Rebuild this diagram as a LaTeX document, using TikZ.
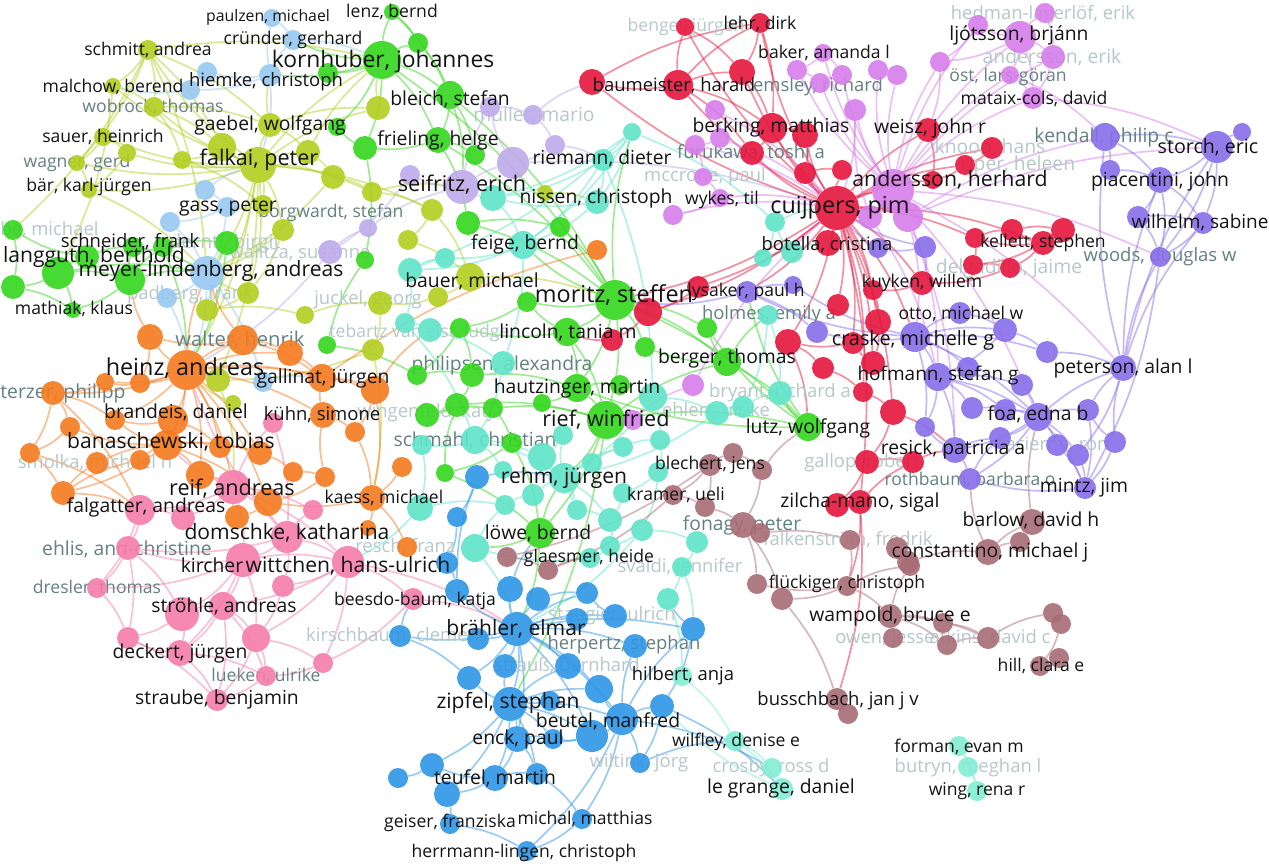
\documentclass[tikz,border=0pt]{standalone}
\usepackage{fontspec}
\setmainfont{Open Sans}
\usetikzlibrary{backgrounds}
\definecolor{cYg}{RGB}{178,206,30}
\definecolor{cGr}{RGB}{52,214,28}
\definecolor{cLb}{RGB}{150,200,240}
\definecolor{cLv}{RGB}{190,170,235}
\definecolor{cCy}{RGB}{95,228,200}
\definecolor{cOr}{RGB}{245,122,30}
\definecolor{cPk}{RGB}{245,125,170}
\definecolor{cBl}{RGB}{45,150,230}
\definecolor{cRd}{RGB}{230,22,62}
\definecolor{cMg}{RGB}{215,125,235}
\definecolor{cPu}{RGB}{135,110,235}
\definecolor{cBr}{RGB}{168,108,118}
\definecolor{cMt}{RGB}{130,238,212}
\definecolor{ink}{RGB}{20,20,20}
\definecolor{fadeA}{RGB}{100,128,128}
\definecolor{fadeB}{RGB}{182,200,200}
\begin{document}
\begin{tikzpicture}[x=0.2mm, y=-0.2mm, line cap=round,
  dot/.style={circle, inner sep=0pt, draw=none, fill opacity=0.9},
  lab/.style={inner sep=0pt, text=ink},
  labA/.style={inner sep=0pt, text=fadeA},
  labB/.style={inner sep=0pt, text=fadeB},
  link/.style={line width=0.34mm, draw opacity=0.48},
  eY/.style={link, draw=cYg}, eG/.style={link, draw=cGr}, eLb/.style={link, draw=cLb},
  eV/.style={link, draw=cLv}, eC/.style={link, draw=cCy}, eO/.style={link, draw=cOr},
  eP/.style={link, draw=cPk}, eU/.style={link, draw=cBl}, eR/.style={link, draw=cRd},
  eM/.style={link, draw=cMg}, eQ/.style={link, draw=cPu}, eW/.style={link, draw=cBr},
  eT/.style={link, draw=cMt}]
\useasboundingbox (0,0) rectangle (1269,866);

\foreach \n/\x/\y/\r in {schmitt/148/50/10, malchow/113/86/8, wobrock/154/107/10, gaebel/270/125/12, falkai/258/165/18, sauer/103/137/9, wagner/77/163/8, baer/89/190/8, y1/222/147/14, y2/308/152/12, y3/127/153/9, y4/182/160/9, y5/263/205/10, y6/283/230/11, y7/378/108/12, y8/333/177/12, y9/372/192/10, y10/432/210/11, y11/408/240/10, y12/248/293/11, y13/207/310/11, y14/305/315/9, y15/218/380/12, y16/233/403/8, y17/373/350/11, y18/380/303/12, y19/438/297/10, bauer/470/277/14, y20/545/193/8}
  \node[dot, fill=cYg, minimum size=0.4mm*\r] (\n) at (\x,\y) {};
\foreach \n/\x/\y/\r in {lenz/392/12/8, kornhuber/382/60/19, g1/418/43/10, g2/328/73/10, bleich/450/95/14, g3/337/127/9, frieling/438/140/13, g4/365/148/12, g5/475/155/10, g6/468/223/12, g7/560/227/10, g8/365/260/9, g9/13/230/10, g10/58/273/16, g11/87/257/12, g12/130/280/15, g13/13/287/12, schneider/133/247/10, g14/163/247/10, derntl/227/243/12, mathiak/73/310/8, g15/327/345/9, g16/460/328/10, g17/417/375/10, g18/472/375/12, g19/457/405/12, g20/427/415/12, g21/493/408/10, g22/512/443/10, g23/445/473/9, g24/527/302/10, lincoln/567/332/14, moritz/615/300/20, g26/645/347/10, g27/707/328/10, hautzinger/577/388/14, g28/620/385/10, g29/542/403/9, rief/606/420/19, berger/727/362/14, lutz/808/427/14, loewe/540/533/15}
  \node[dot, fill=cGr, minimum size=0.4mm*\r] (\n) at (\x,\y) {};
\foreach \n/\x/\y/\r in {paulzen/272/18/9, cruender/293/40/10, hiemke/270/75/11, b1/207/72/10, b2/190/90/10, b3/205/190/10, gass/227/207/10, b4/170/222/10, meyer/207/273/17, b5/167/298/10, b6/263/382/10}
  \node[dot, fill=cLb, minimum size=0.4mm*\r] (\n) at (\x,\y) {};
\foreach \n/\x/\y/\r in {seifritz/462/187/17, v1/513/163/16, v2/410/175/10, v3/490/107/10, v4/533/115/10, v5/555/145/10, v6/330/252/12, v7/368/228/9}
  \node[dot, fill=cLv, minimum size=0.4mm*\r] (\n) at (\x,\y) {};
\foreach \n/\x/\y/\r in {c1/632/132/9, riemann/603/160/11, c2/493/198/13, nissen/597/202/12, feige/523/245/14, c3/410/270/12, c4/445/258/10, c5/405/323/10, c6/430/330/12, c7/503/363/12, schmahl/475/440/14, c8/422/445/10, c9/563/435/10, c10/542/457/14, c11/592/463/10, c12/623/447/10, c13/503/470/9, c14/505/505/10, c15/533/495/11, rehm/564/478/15, c16/577/510/10, c17/610/520/12, c18/420/508/13, c19/475/548/14, c20/610/546/10, c21/660/440/10, c22/658/472/10, c23/717/413/12, c24/743/407/11, c25/780/393/12, c26/653/397/14, c27/642/530/11, c28/697/542/11, c29/682/567/10, c30/623/493/10, c31/775/222/10, c32/763/258/9, c33/792/252/11, holmes/768/315/10, c34/668/599/11, glaesmer/590/558/10}
  \node[dot, fill=cCy, minimum size=0.4mm*\r] (\n) at (\x,\y) {};
\foreach \n/\x/\y/\r in {heinz/187/370/20, walter/243/340/15, o1/150/337/13, o2/290/353/13, o3/140/383/10, o4/105/382/9, terzer/53/393/12, o5/115/420/10, o6/70/427/10, brandeis/173/420/15, o7/30/453/10, o8/97/463/11, o9/140/460/10, o10/220/447/11, o11/260/453/12, banasch/167/445/15, o12/200/475/14, o13/63/493/12, o14/268/502/14, o15/237/517/12, o16/293/472/10, o17/325/477/10, gallinat/322/378/14, o18/375/390/14, o19/355/432/10, o20/402/467/10, kaess/372/498/13, o22/368/528/8, o23/407/547/10, kuehn/323/415/13, o24/597/250/10}
  \node[dot, fill=cOr, minimum size=0.4mm*\r] (\n) at (\x,\y) {};
\foreach \n/\x/\y/\r in {reif/233/487/17, falg/140/510/15, domschke/287/537/16, ehlis/128/548/12, kircher/243/560/17, wittchen/348/562/16, p1/183/518/12, p2/313/510/10, p3/273/423/10, dresler/97/588/10, p4/182/614/17, stroehle/223/606/14, p5/128/638/11, deckert/180/653/13, p6/256/638/14, lueken/266/676/10, straube/217/700/11, p7/323/663/10, p8/283/586/11, beesdo/413/599/11}
  \node[dot, fill=cPk, minimum size=0.4mm*\r] (\n) at (\x,\y) {};
\foreach \n/\x/\y/\r in {braehler/517/629/17, zipfel/510/704/17, beutel/622/719/16, u1/592/736/16, enck/517/739/13, u2/553/739/10, u3/469/678/12, u4/478/639/11, u5/400/636/11, u6/457/591/12, u7/510/589/13, u8/538/599/12, u9/587/593/11, u10/577/619/11, u11/615/616/12, u12/568/666/13, u13/505/666/12, u14/599/689/14, u15/635/646/12, u16/550/701/10, u17/432/765/12, u18/398/778/10, u19/447/794/13, teufel/495/778/13, u20/537/774/11, u21/477/477/12, u22/457/517/10, u23/447/563/11, u24/693/629/12, u26/662/706/12, wiltink/640/763/10, geiser/450/824/10, michal/582/819/10, herrmann/527/851/10}
  \node[dot, fill=cBl, minimum size=0.4mm*\r] (\n) at (\x,\y) {};
\foreach \n/\x/\y/\r in {cuijpers/837/208/22, baumeister/678/85/15, r1/592/82/13, bengel/685/27/9, lehr/760/23/10, r2/742/72/13, berking/772/128/15, r3/805/135/13, furukawa/752/153/12, r4/805/173/11, r5/842/170/10, botella/828/243/13, weisz/928/130/12, r6/992/148/11, r7/965/165/10, r8/933/180/9, kellett/1043/243/12, r9/975/238/10, r10/1012/230/11, r11/1063/230/12, r12/973/265/10, r13/1010/268/10, kuyken/922/283/12, r14/873/290/10, r15/838/305/11, r16/878/322/13, r17/788/342/13, r18/823/368/11, r19/873/363/12, r20/853/343/11, r21/863/392/10, r22/893/412/13, r23/867/462/12, r24/913/462/11, r25/837/505/12, zilcha/860/502/12, r26/648/312/14, r27/698/287/11, r28/612/340/11}
  \node[dot, fill=cRd, minimum size=0.4mm*\r] (\n) at (\x,\y) {};
\foreach \n/\x/\y/\r in {andersson/893/190/21, m1/908/217/15, m2/870/217/12, baker/823/53/9, emsley/820/83/10, m3/797/70/10, m4/842/75/10, m5/878/70/10, m6/897/75/10, m7/855/110/11, m8/715/110/10, m9/720/138/10, m10/695/145/10, mccrone/703/177/9, wykes/720/198/9, m11/673/215/10, m12/940/62/10, ljotsson/1020/37/16, m13/978/25/10, m14/1045/13/10, anderik/1053/57/12, oest/1010/75/9, mataix/1033/98/11, m15/633/420/10, m16/693/385/11}
  \node[dot, fill=cMg, minimum size=0.4mm*\r] (\n) at (\x,\y) {};
\foreach \n/\x/\y/\r in {lysaker/747/292/11, q1/817/332/11, q2/793/285/9, craske/915/337/15, otto/960/313/11, q3/1005/330/12, q4/1047/352/11, hofmann/938/377/14, q5/968/368/11, q6/1022/385/11, q7/972/408/11, q8/1005/410/11, foa/1038/417/14, q9/1088/410/11, q10/1000/438/11, resick/955/450/13, q11/1057/445/11, q12/1078/455/11, q13/1115/442/11, mintz/1085/488/11, rothbaum/970/479/11, peterson/1123/368/13, q14/925/427/10, kendall/1105/137/14, q15/1110/170/10, storch/1217/147/16, q16/1242/132/9, piacentini/1160/180/13, q17/1138/217/11, wilhelm/1203/223/11, woods/1160/257/10, q18/925/247/11, q19/878/248/10}
  \node[dot, fill=cPu, minimum size=0.4mm*\r] (\n) at (\x,\y) {};
\foreach \n/\x/\y/\r in {blechert/710/465/11, w1/733/453/10, w2/762/470/10, kramer/673/495/10, w3/705/507/10, fonagy/743/525/13, w4/760/533/10, falken/850/540/10, w5/507/557/10, w6/548/570/10, flueck/847/586/10, w7/757/584/10, w8/782/599/11, wampold/890/616/12, w9/943/623/10, w10/947/645/10, w11/988/638/11, w12/1053/613/10, w13/1061/624/10, hill/1040/666/10, w14/1059/658/10, w15/910/566/10, w16/893/638/10, busch/837/699/11, w17/848/714/10, constantino/988/552/13, w18/1020/542/10, barlow/1032/522/13, w19/897/548/11, w20/908/562/11}
  \node[dot, fill=cBr, minimum size=0.4mm*\r] (\n) at (\x,\y) {};
\foreach \n/\x/\y/\r in {hilbert/682/676/10, wilfley/735/741/10, crosby/772/768/10, legrange/782/789/11, forman/959/746/10, butryn/968/767/10, wing/977/791/10}
  \node[dot, fill=cMt, minimum size=0.4mm*\r] (\n) at (\x,\y) {};

\begin{scope}[on background layer]
\fill[white] (0,0) rectangle (1269,866);
\foreach \a/\b in {falkai/schmitt, falkai/malchow, falkai/wobrock, falkai/gaebel, falkai/sauer, falkai/wagner, falkai/baer, falkai/y1, falkai/y2, falkai/y3, falkai/y4, falkai/y5, falkai/y6, falkai/y8, falkai/y9, falkai/y12, falkai/y13, falkai/meyer, falkai/heinz, falkai/kornhuber, falkai/y7, falkai/y10, falkai/y15, schmitt/malchow, schmitt/wobrock, schmitt/gaebel, schmitt/y1, schmitt/kornhuber, schmitt/meyer, schmitt/g9, schmitt/wagner, malchow/wobrock, malchow/g10, wobrock/gaebel, wobrock/y1, wobrock/y4, sauer/wagner, sauer/y3, wagner/baer, y3/baer, gaebel/y2, gaebel/y7, y2/y8, y8/y9, y9/y10, y10/y11, y11/bauer, y7/kornhuber, y12/y13, y13/y14, y14/y18, y18/y17, y17/y15, y15/heinz, y16/heinz, bauer/y19, y19/y18, y8/meyer, y6/meyer, y5/gass, gaebel/hiemke, y1/y4, y4/y5, y12/meyer, y6/y12, bauer/moritz, y20/nissen, y9/seifritz, y2/kornhuber, y10/bauer, y17/kaess, y15/reif, baer/meyer}
  \draw[eY] (\a) to[bend left=10] (\b);
\foreach \a/\b in {kornhuber/lenz, kornhuber/g1, kornhuber/g2, kornhuber/bleich, kornhuber/g3, kornhuber/frieling, kornhuber/g4, kornhuber/hiemke, kornhuber/cruender, lenz/g1, lenz/bleich, g1/bleich, bleich/frieling, bleich/g5, bleich/seifritz, frieling/g5, frieling/g4, frieling/g6, g4/g3, g4/g8, g6/moritz, g6/g7, g7/moritz, frieling/moritz, kornhuber/moritz, bleich/moritz, moritz/lincoln, moritz/berger, moritz/lutz, moritz/rief, moritz/hautzinger, moritz/g24, moritz/g26, moritz/g27, moritz/feige, moritz/c1, lincoln/hautzinger, lincoln/rief, lincoln/g16, lincoln/g24, hautzinger/rief, hautzinger/g28, hautzinger/g29, rief/lutz, rief/berger, rief/loewe, rief/rehm, berger/lutz, berger/g27, berger/g26, lutz/g27, lutz/hautzinger, lutz/c25, g16/g17, g17/g18, g18/g19, g19/g20, g20/g21, g21/g22, g22/g23, g23/g19, g15/g17, g15/g8, g16/g18, g18/hautzinger, g19/rief, g21/rief, g22/loewe, g23/loewe, loewe/rehm, loewe/c19, g10/g11, g10/g12, g10/g13, g11/g9, g11/schneider, g12/schneider, g12/g14, g14/derntl, derntl/meyer, g9/g13, g10/mathiak, g12/mathiak, g13/mathiak, schneider/meyer, g10/meyer, g12/meyer, derntl/heinz, g14/heinz, g24/g16, lutz/lysaker, berger/holmes, moritz/r26, loewe/braehler, rief/zipfel}
  \draw[eG] (\a) to[bend left=10] (\b);
\foreach \a/\b in {hiemke/paulzen, hiemke/cruender, hiemke/b1, hiemke/b2, b1/b2, paulzen/cruender, cruender/kornhuber, hiemke/falkai, b3/gass, gass/b4, b4/meyer, gass/meyer, meyer/b5, meyer/b6, meyer/heinz, b5/heinz, b6/gallinat, meyer/y13, b3/falkai, b2/malchow}
  \draw[eLb] (\a) to[bend left=10] (\b);
\foreach \a/\b in {seifritz/v1, seifritz/v2, seifritz/v3, v3/v4, v4/v5, v5/v1, v1/v3, v2/v6, v6/v7, v7/seifritz, v1/cuijpers, v4/r1, v6/heinz, v5/riemann}
  \draw[eV] (\a) to[bend left=10] (\b);
\foreach \a/\b in {c1/riemann, c1/nissen, c1/c2, c1/feige, c1/c3, riemann/nissen, riemann/feige, riemann/c2, nissen/feige, nissen/c2, c2/feige, c2/seifritz, feige/c4, feige/c3, c3/c4, c3/c5, c5/c6, c6/c7, c7/schmahl, schmahl/c8, schmahl/c10, schmahl/rehm, schmahl/c13, c8/c18, c18/c14, c14/c15, c15/rehm, rehm/c9, rehm/c10, rehm/c11, rehm/c12, rehm/c16, rehm/c17, c9/c10, c11/c12, c12/c21, c21/c22, c22/c30, c30/c17, c17/c20, c20/glaesmer, glaesmer/c19, c19/c14, c19/braehler, c27/c28, c28/c29, c29/c34, c34/hilbert, c26/c23, c23/c24, c24/c25, c26/c21, c31/c32, c32/c33, c33/c31, c31/cuijpers, c33/botella, holmes/c25, holmes/c24, c10/c16, c16/c17, c27/c20, c22/c27, feige/c7, c1/c31, riemann/c26, c26/rehm, c23/rehm, c27/braehler, c29/u24, c5/schmahl, c18/wittchen}
  \draw[eC] (\a) to[bend left=10] (\b);
\foreach \a/\b in {heinz/walter, heinz/o1, heinz/o2, heinz/o3, heinz/o4, heinz/terzer, heinz/o5, heinz/brandeis, heinz/banasch, heinz/o10, heinz/o11, heinz/o12, heinz/gallinat, heinz/kuehn, heinz/o18, heinz/o14, heinz/reif, walter/o2, walter/gallinat, walter/o1, o1/o3, o3/o4, o4/terzer, terzer/o6, terzer/o5, terzer/o7, o6/o7, o7/o13, o13/o8, o8/banasch, o9/banasch, banasch/brandeis, banasch/o10, banasch/o12, banasch/o13, banasch/o5, banasch/o6, banasch/o11, banasch/o14, brandeis/o10, brandeis/o5, o10/o11, o11/o16, o16/o17, o17/kuehn, kuehn/gallinat, gallinat/o18, o18/o19, o19/kaess, o20/kaess, kaess/o22, kaess/o23, kaess/o14, o14/o15, o15/reif, o12/reif, o13/falg, o13/o9, gallinat/o24, o2/gallinat, o17/o14, kuehn/o19, o18/kaess, terzer/falg, o7/falg, heinz/meyer, walter/meyer, o1/g12, o18/c6}
  \draw[eO] (\a) to[bend left=10] (\b);
\foreach \a/\b in {reif/falg, reif/domschke, reif/kircher, reif/p1, reif/p2, reif/wittchen, reif/p3, domschke/kircher, domschke/wittchen, domschke/p2, domschke/ehlis, domschke/p8, kircher/wittchen, kircher/ehlis, kircher/stroehle, kircher/p4, kircher/deckert, kircher/p6, kircher/dresler, wittchen/stroehle, wittchen/p6, wittchen/beesdo, wittchen/p7, wittchen/p8, falg/ehlis, falg/p1, ehlis/dresler, ehlis/p4, ehlis/p5, p4/stroehle, p4/deckert, p4/p5, stroehle/deckert, stroehle/p6, stroehle/lueken, stroehle/straube, deckert/straube, deckert/p5, deckert/lueken, p6/lueken, p6/straube, p6/p7, lueken/straube, p7/lueken, p8/p6, beesdo/p7, beesdo/braehler, dresler/p5, p5/straube, falg/dresler, p3/domschke, wittchen/braehler, domschke/heinz, reif/banasch}
  \draw[eP] (\a) to[bend left=10] (\b);
\foreach \a/\b in {braehler/zipfel, braehler/beutel, braehler/u1, braehler/enck, braehler/u3, braehler/u4, braehler/u5, braehler/u6, braehler/u7, braehler/u8, braehler/u9, braehler/u10, braehler/u11, braehler/u12, braehler/u13, braehler/u14, braehler/u15, braehler/u24, zipfel/beutel, zipfel/u1, zipfel/enck, zipfel/u2, zipfel/u3, zipfel/u12, zipfel/u13, zipfel/u14, zipfel/u16, zipfel/teufel, zipfel/u20, zipfel/u17, zipfel/u19, beutel/u1, beutel/u14, beutel/u15, beutel/u24, beutel/u26, beutel/wiltink, beutel/michal, beutel/herrmann, u1/enck, u1/u2, enck/u2, enck/teufel, enck/u20, teufel/u19, teufel/u17, teufel/u20, u17/u18, u17/u19, u19/geiser, geiser/herrmann, michal/herrmann, u20/michal, u5/u3, u6/u21, u21/u22, u22/u23, u23/u6, u24/u26, u26/wiltink, u24/c34, wiltink/wilfley, beutel/crosby, u26/legrange, u21/rehm, u7/loewe, u5/beesdo, u11/u9, u8/u9}
  \draw[eU] (\a) to[bend left=10] (\b);
\foreach \a/\b in {cuijpers/baumeister, cuijpers/r1, cuijpers/lehr, cuijpers/bengel, cuijpers/r2, cuijpers/berking, cuijpers/r3, cuijpers/furukawa, cuijpers/r4, cuijpers/r5, cuijpers/botella, cuijpers/weisz, cuijpers/r6, cuijpers/r7, cuijpers/r8, cuijpers/kuyken, cuijpers/r14, cuijpers/r15, cuijpers/r16, cuijpers/r17, cuijpers/r19, cuijpers/r20, cuijpers/r22, cuijpers/r26, cuijpers/r27, cuijpers/andersson, cuijpers/m1, cuijpers/m2, cuijpers/r9, cuijpers/kellett, cuijpers/moritz, cuijpers/zilcha, cuijpers/r21, baumeister/r1, baumeister/bengel, baumeister/lehr, baumeister/r2, baumeister/berking, baumeister/furukawa, bengel/r2, lehr/r2, lehr/berking, r2/berking, berking/r3, berking/furukawa, r3/r4, r4/r5, weisz/r8, r6/r7, r7/r8, kellett/r9, kellett/r10, kellett/r11, kellett/r12, kellett/r13, r9/r10, r10/r11, r12/r13, r9/r12, r13/kuyken, kuyken/r14, r14/r16, r16/r19, r19/r20, r20/r17, r17/r18, r18/r21, r21/r22, r22/r23, r23/r24, r23/r25, r25/zilcha, zilcha/r24, r26/moritz, r26/r28, r27/r26, r22/resick, r24/resick, zilcha/busch, zilcha/flueck, r1/lehr, cuijpers/lysaker, cuijpers/craske, r17/lutz, r28/lincoln}
  \draw[eR] (\a) to[bend left=10] (\b);
\foreach \a/\b in {andersson/m1, andersson/m2, andersson/ljotsson, andersson/anderik, andersson/oest, andersson/mataix, andersson/m12, andersson/m13, andersson/baker, andersson/emsley, andersson/m4, andersson/m5, andersson/m6, andersson/m7, andersson/m3, m1/craske, m1/hofmann, m1/kendall, andersson/foa, m2/m7, ljotsson/m13, ljotsson/m14, ljotsson/anderik, ljotsson/oest, ljotsson/mataix, ljotsson/m12, m13/m12, m14/anderik, oest/mataix, anderik/mataix, baker/m3, baker/m4, emsley/m4, m3/emsley, m5/m6, m8/m9, m9/m10, m10/mccrone, mccrone/wykes, wykes/m11, m8/cuijpers, m9/cuijpers, m10/cuijpers, wykes/cuijpers, m11/cuijpers, m15/rief, m15/m16, m16/cuijpers, m12/weisz, andersson/peterson, m1/storch, andersson/woods, mataix/storch, oest/kendall, m1/resick, m2/hofmann, m7/cuijpers}
  \draw[eM] (\a) to[bend left=10] (\b);
\foreach \a/\b in {craske/otto, craske/hofmann, craske/q1, craske/q3, craske/q4, craske/q5, craske/q14, craske/lysaker, craske/q2, craske/foa, hofmann/q5, hofmann/q6, hofmann/q7, hofmann/q8, hofmann/foa, hofmann/resick, hofmann/q14, otto/q3, q3/q4, q4/peterson, q3/hofmann, q6/foa, q7/foa, q8/foa, foa/q9, foa/q10, foa/q11, foa/q12, foa/resick, foa/rothbaum, foa/peterson, foa/mintz, q9/peterson, q9/mintz, q11/mintz, q12/mintz, q13/peterson, q13/mintz, q13/q9, resick/rothbaum, resick/q10, resick/q14, rothbaum/q10, peterson/q12, peterson/storch, peterson/piacentini, peterson/wilhelm, peterson/woods, peterson/kendall, kendall/q15, kendall/storch, kendall/piacentini, q15/piacentini, storch/q16, storch/piacentini, storch/wilhelm, storch/woods, piacentini/q17, piacentini/wilhelm, piacentini/woods, q17/wilhelm, q17/woods, wilhelm/woods, woods/mintz, q18/q19, q18/cuijpers, q19/cuijpers, lysaker/q2, lysaker/q1, mintz/rothbaum, q18/kuyken, lysaker/moritz}
  \draw[eQ] (\a) to[bend left=10] (\b);
\foreach \a/\b in {blechert/w1, blechert/kramer, blechert/w3, w1/w2, w2/fonagy, kramer/w3, w3/fonagy, fonagy/w4, fonagy/w7, fonagy/w8, w4/falken, falken/flueck, flueck/w7, flueck/w8, flueck/wampold, flueck/w15, w8/busch, wampold/w9, wampold/w10, wampold/w11, wampold/w16, wampold/w15, w9/w11, w10/w11, w11/w12, w12/w13, w13/hill, hill/w14, w15/w19, w19/w20, w20/constantino, constantino/w18, w18/barlow, constantino/barlow, busch/w17, w5/w6, w6/glaesmer, blechert/w5, kramer/w6, barlow/foa, constantino/rothbaum, w2/lutz}
  \draw[eW] (\a) to[bend left=10] (\b);
\foreach \a/\b in {wilfley/crosby, crosby/legrange, wilfley/legrange, forman/butryn, butryn/wing, forman/wing, hilbert/wilfley, legrange/u26}
  \draw[eT] (\a) to[bend left=10] (\b);

\foreach \x/\y/\s/\t [count=\i] in {153/107/10/{wobrock, thomas}, 77/163/10/{wagner, gerd}, 331/213/10/{borgwardt, stefan}, 240/340/11.5/{walter, henrik}, 127/549/11/{ehlis, ann-christine}, 97/588/10/{dresler, thomas}, 266/676/10/{lueken, ulrike}, 502/365/11/{philipsen, alexandra}, 475/440/11/{schmahl, christian}, 769/315/10.5/{holmes, emily a}, 742/525/11/{fonagy, peter}, 624/645/10.5/{herpertz, stephan}, 1104/137/11/{kendall, philip c}, 1160/257/10.5/{woods, douglas w}, 1008/77/10/{öst, lars-göran}, 970/480/10/{rothbaum, barbara o}, 818/87/10.5/{emsley, richard}, 751/153/10.5/{furukawa, toshi a}}
  \node[labA] (lm\i) at (\x,\y) {\fontsize{\s}{\s}\selectfont\t};
\node[labA, anchor=west] (lmt) at (0,393) {\fontsize{11}{11}\selectfont terzer, philipp};
\foreach \x/\y/\s/\t [count=\i] in {534/115/11/{müller, mario}, 686/27/10/{bengel, jürgen}, 1043/15/10.5/{hedman-lagerlöf, erik}, 1052/57/11/{andersson, erik}, 990/148/11/{knoop, hans}, 1018/165/11/{riper, heleen}, 1009/268/11/{delgadillo, jaime}, 705/177/10.5/{mccrone, paul}, 225/243/11/{derntl, birgit}, 300/253/10.5/{walitza, susanne}, 190/295/10.5/{padberg, frank}, 368/300/10.5/{juckel, georg}, 423/333/10/{tebartz van elst, ludger}, 430/413/10.5/{wingenfeld, katja}, 95/463/10.5/{smolka, michael n}, 405/547/10.5/{resch, franz}, 397/636/10.5/{kirschbaum, clemens}, 567/666/10.5/{strauß, bernhard}, 612/616/10.5/{stangier, ulrich}, 680/568/10.5/{svaldi, jennifer}, 639/763/10.5/{wiltink, jörg}, 771/768/10.5/{crosby, ross d}, 968/768/10.5/{butryn, meghan l}, 885/639/10.5/{owen, jesse}, 990/638/10.5/{atkins, david c}, 848/540/10.5/{falkenström, fredrik}, 862/463/10.5/{gallop, robert}, 780/393/10.5/{bryant, richard a}, 716/411/10.5/{ehlert, ulrike}, 1057/445/10.5/{acierno, ron}}
  \node[labB] (ll\i) at (\x,\y) {\fontsize{\s}{\s}\selectfont\t};
\node[labB, anchor=west] (llb) at (0,230) {\fontsize{10.5}{10.5}\selectfont be, michael};
\end{scope}

\foreach \x/\y/\s/\t [count=\i] in {268/17/9/{paulzen, michael}, 293/40/10/{cründer, gerhard}, 148/50/10/{schmitt, andrea}, 383/62/13/{kornhuber, johannes}, 392/12/10/{lenz, bernd}, 266/82/10.5/{hiemke, christoph}, 113/87/10/{malchow, berend}, 450/99/11/{bleich, stefan}, 270/125/11/{gaebel, wolfgang}, 438/140/11/{frieling, helge}, 103/137/10/{sauer, heinrich}, 259/160/12.3/{falkai, peter}, 89/187/10/{bär, karl-jürgen}, 462/185/12.3/{seifritz, erich}, 602/158/11/{riemann, dieter}, 228/207/11/{gass, peter}, 596/198/11/{nissen, christoph}, 525/244/11/{feige, bernd}, 472/281/11/{bauer, michael}, 130/242/10.5/{schneider, frank}, 94/257/12/{langguth, berthold}, 211/271/12/{meyer-lindenberg, andreas}, 74/309/10/{mathiak, klaus}, 185/368/13.3/{heinz, andreas}, 323/378/11/{gallinat, jürgen}, 176/412/11/{brandeis, daniel}, 322/415/10.5/{kühn, simone}, 171/442/12/{banaschewski, tobias}, 232/489/12.3/{reif, andreas}, 146/507/11/{falgatter, andreas}, 384/498/10/{kaess, michael}, 287/533/12/{domschke, katharina}, 212/565/11/{kircher}, 348/566/12/{wittchen, hans-ulrich}, 224/606/11/{ströhle, andreas}, 180/653/11/{deckert, jürgen}, 217/699/11/{straube, benjamin}, 415/601/10/{beesdo-baum, katja}, 568/332/11/{lincoln, tania m}, 614/295/13.3/{moritz, steffen}, 577/388/11/{hautzinger, martin}, 606/420/12.3/{rief, winfried}, 564/478/12/{rehm, jürgen}, 538/533/11/{löwe, bernd}, 589/558/10/{glaesmer, heide}, 676/495/10/{kramer, ueli}, 710/465/10/{blechert, jens}, 808/428/11/{lutz, wolfgang}, 727/358/11/{berger, thomas}, 746/292/10/{lysaker, paul h}, 860/502/11/{zilcha-mano, sigal}, 913/340/11.3/{craske, michelle g}, 961/314/10/{otto, michael w}, 922/283/10/{kuyken, willem}, 938/376/10.8/{hofmann, stefan g}, 953/449/11/{resick, patricia a}, 1038/414/11/{foa, edna b}, 1123/368/11/{peterson, alan l}, 1084/488/11/{mintz, jim}, 1031/520/11/{barlow, david h}, 990/552/11/{constantino, michael j}, 1208/147/11.2/{storch, eric}, 1160/181/11/{piacentini, john}, 1200/223/10.8/{wilhelm, sabine}, 1043/243/10/{kellett, stephen}, 950/180/12.1/{andersson, herhard}, 760/24/10/{lehr, dirk}, 824/53/10/{baker, amanda l}, 674/86/10.5/{baumeister, harald}, 771/127/11/{berking, matthias}, 722/200/10/{wykes, til}, 840/208/13.3/{cuijpers, pim}, 827/245/10.5/{botella, cristina}, 930/128/11/{weisz, john r}, 1019/35/11/{ljótsson, brjánn}, 1034/99/10/{mataix-cols, david}, 516/629/12/{brähler, elmar}, 683/676/10.5/{hilbert, anja}, 508/703/12/{zipfel, stephan}, 608/721/11/{beutel, manfred}, 518/739/11/{enck, paul}, 736/742/10/{wilfley, denise e}, 781/788/11/{le grange, daniel}, 495/778/11/{teufel, martin}, 450/823/10/{geiser, franziska}, 585/819/10/{michal, matthias}, 524/853/10/{herrmann-lingen, christoph}, 847/584/10/{flückiger, christoph}, 890/616/11/{wampold, bruce e}, 1041/666/10/{hill, clara e}, 838/701/10.5/{busschbach, jan j v}, 959/747/10/{forman, evan m}, 977/791/10/{wing, rena r}}
  \node[lab] (lk\i) at (\x,\y) {\fontsize{\s}{\s}\selectfont\t};
\end{tikzpicture}
\end{document}
